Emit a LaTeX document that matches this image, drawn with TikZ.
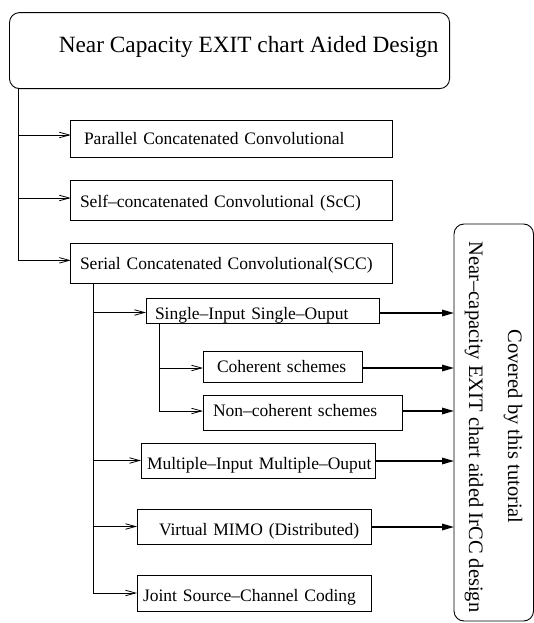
\documentclass[tikz,border=0pt]{standalone}
\usepackage{fontspec}
\setmainfont{Liberation Serif}
\usetikzlibrary{arrows.meta}

\newcommand{\boxfont}{\fontsize{17.5}{20}\selectfont}
\newcommand{\titlefont}{\fontsize{23.3}{27}\selectfont}
\newcommand{\sidefont}{\fontsize{20.5}{24}\selectfont}

\begin{document}
\begin{tikzpicture}[x=1pt, y=-1pt,
  blk/.style={draw, line width=0.9pt, rectangle, anchor=north west,
    inner ysep=0pt, outer sep=0pt, align=left, font=\boxfont},
  frame/.style={draw, line width=0.9pt, rounded corners=10pt,
    anchor=north west, inner sep=0pt, outer sep=0pt},
  feed/.style={line width=0.8pt, -{Straight Barb[length=10pt,width=5.5pt]}},
  cover/.style={line width=1.6pt, -{Triangle[length=12pt,width=6.5pt]}},
  side/.style={rotate=-90, anchor=base, font=\sidefont, inner sep=0pt}]

\useasboundingbox (0,0) rectangle (534,623);
\clip (0,0) rectangle (534,623);

% heading
\node[frame, minimum width=440.1pt, minimum height=76pt] (top) at (9.5,12.6) {};
\node[anchor=base west, font=\titlefont, inner sep=0pt] (toptext) at (58.6,52.8)
  {Near Capacity EXIT chart Aided Design};

% first level families
\node[blk, text height=24.3pt, text depth=12.9pt, text width=295.1pt, inner xsep=13.2pt]
  (par) at (70.8,120) {\mbox{Parallel Concatenated Convolutional}};
\node[blk, text height=27.3pt, text depth=12.9pt, text width=303.1pt, inner xsep=9.2pt]
  (self) at (70.8,180.4) {\mbox{Self–concatenated Convolutional (ScC)}};
\node[blk, text height=26.2pt, text depth=13.7pt, text width=303.1pt, inner xsep=9.2pt]
  (ser) at (70.8,243.4) {\mbox{Serial Concatenated Convolutional(SCC)}};

% serial concatenated branches
\node[blk, text height=21pt, text depth=4pt, text width=215pt, inner xsep=9pt]
  (siso) at (146,298) {\mbox{Single–Input Single–Ouput}};
\node[blk, text height=21.7pt, text depth=9.3pt, text width=131pt, inner xsep=14pt]
  (coh) at (203,351) {\mbox{Coherent schemes}};
\node[blk, text height=21.7pt, text depth=13.3pt, text width=179pt, inner xsep=10pt]
  (nonc) at (203,395) {\mbox{Non–coherent schemes}};
\node[blk, text height=26.3pt, text depth=8.7pt, text width=222pt, inner xsep=6pt]
  (mimo) at (141,443) {\mbox{Multiple–Input Multiple–Ouput}};
\node[blk, text height=26pt, text depth=9pt, text width=190pt, inner xsep=22pt]
  (virt) at (137,509) {\mbox{Virtual MIMO (Distributed)}};
\node[blk, text height=26.7pt, text depth=9.3pt, text width=222pt, inner xsep=6pt]
  (joint) at (137,575) {\mbox{Joint Source–Channel Coding}};

% tutorial scope panel
\node[frame, minimum width=79.5pt, minimum height=397pt] (rbox) at (454,224) {};
\node[side] (covered) at (508,426.5) {Covered by this tutorial};
\node[side] (nearcap) at (469,427) {Near–capacity EXIT chart aided IrCC design};

% trunk from the heading
\coordinate (t1) at ([xshift=9.2pt]top.south west);
\draw[feed] (t1) |- ([yshift=3pt]ser.west);
\draw[feed] ([yshift=3.6pt]par.west -| t1) -- ([yshift=3.6pt]par.west);
\draw[feed] ([yshift=2.5pt]self.west -| t1) -- ([yshift=2.5pt]self.west);

% trunk from the serial family
\coordinate (t2) at ([xshift=22.2pt]ser.south west);
\draw[feed] (t2) |- (joint.west);
\draw[feed] ([yshift=-2pt]siso.west -| t2) -- ([yshift=-2pt]siso.west);
\draw[feed] (mimo.west -| t2) -- (mimo.west);
\draw[feed] (virt.west -| t2) -- (virt.west);

% trunk from the single-input single-output box
\coordinate (t3) at ([xshift=13pt]siso.south west);
\draw[feed] (t3) |- ([yshift=1.5pt]nonc.west);
\draw[feed] ([yshift=-1.5pt]coh.west -| t3) -- ([yshift=-1.5pt]coh.west);

% links into the tutorial panel
\draw[cover] ([yshift=-2.5pt]siso.east) -- ([yshift=-2.5pt]siso.east -| rbox.west);
\draw[cover] ([yshift=-1.5pt]coh.east) -- ([yshift=-1.5pt]coh.east -| rbox.west);
\draw[cover] ([yshift=1.5pt]nonc.east) -- ([yshift=1.5pt]nonc.east -| rbox.west);
\draw[cover] ([yshift=-0.5pt]mimo.east) -- ([yshift=-0.5pt]mimo.east -| rbox.west);
\draw[cover] ([yshift=-0.5pt]virt.east) -- ([yshift=-0.5pt]virt.east -| rbox.west);

\end{tikzpicture}
\end{document}
